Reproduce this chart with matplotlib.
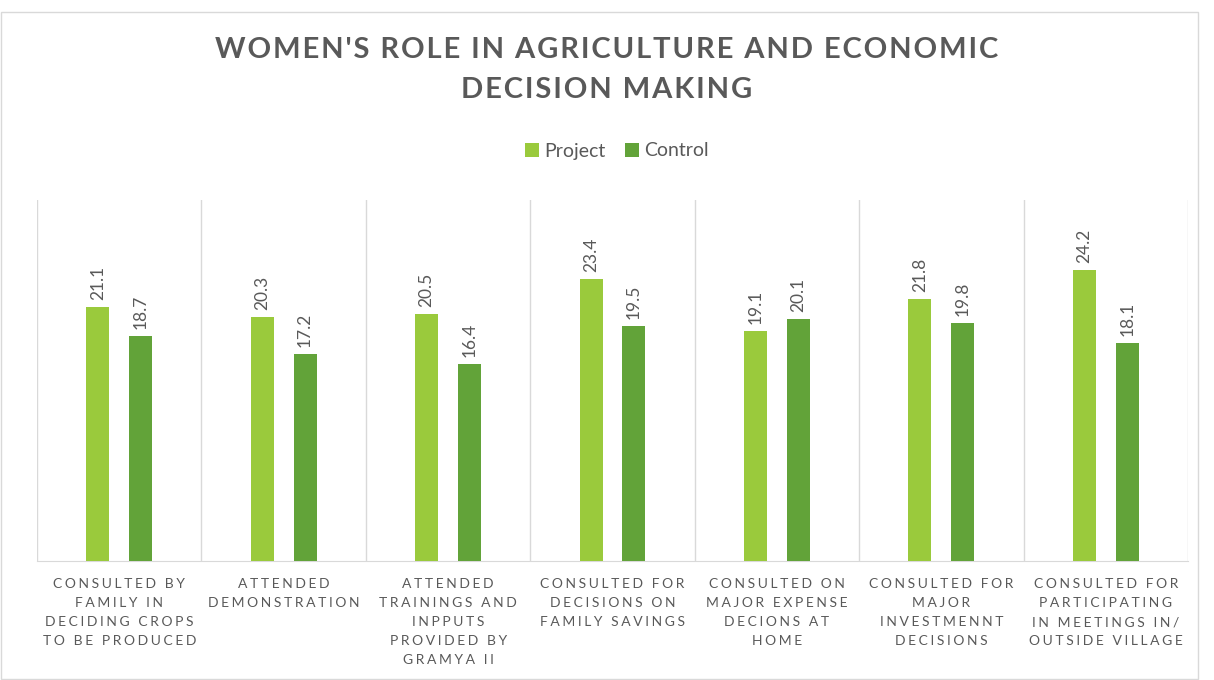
import numpy as np
import matplotlib.pyplot as plt
from matplotlib.patches import Rectangle

# data
categories = ["Consulted by\nfamily in\ndeciding crops\nto be produced",
              "Attended\ndemonstration",
              "Attended\ntrainings and\ninpputs\nprovided by\nGramya II",
              "Consulted for\ndecisions on\nfamily savings",
              "Consulted on\nmajor expense\ndecions at\nhome",
              "Consulted for\nmajor\ninvestmennt\ndecisions",
              "Consulted for\nparticipating\nin meetings in/\noutside village"]
project = [21.1, 20.3, 20.5, 23.4, 19.1, 21.8, 24.2]
control = [18.7, 17.2, 16.4, 19.5, 20.1, 19.8, 18.1]

c_proj = '#9ACA3C'
c_ctrl = '#62A339'
grey = '#595959'
FONT = ['Lato', 'DejaVu Sans']


def spaced(s, sp='\u2009'):
    # fake letter spacing
    return '\n'.join(sp.join(line) for line in s.split('\n'))


fig = plt.figure(figsize=(12.14, 6.8), dpi=100)
ax = fig.add_axes([37/1214, 1-561/680, 1151/1214, 361/680])

x = np.arange(len(categories))
w = 0.14
b1 = ax.bar(x - 0.13, project, w, color=c_proj, label='Project', zorder=3)
b2 = ax.bar(x + 0.13, control, w, color=c_ctrl, label='Control', zorder=3)

for bars in (b1, b2):
    for r in bars:
        ax.annotate(f'{r.get_height():.1f}', (r.get_x() + r.get_width()/2, r.get_height()),
                    xytext=(0, 5), textcoords='offset points', rotation=90,
                    ha='center', va='bottom', fontsize=12.5, color=grey, family=FONT)

ax.set_xlim(-0.5, len(categories) - 0.5)
ax.set_ylim(0, 30)
ax.set_yticks([])
ax.set_xticks(x)
ax.set_xticklabels([spaced(c.upper(), '\u2009\u200a') for c in categories], fontsize=10,
                   color=grey, family=FONT, linespacing=1.72)
ax.tick_params(axis='x', length=0, pad=12)
for xv in np.arange(-0.5, len(categories), 1.0):
    ax.axvline(xv, color='#D9D9D9', lw=1, zorder=1)
for s in ['top', 'right', 'left']:
    ax.spines[s].set_visible(False)
ax.spines['bottom'].set_color('#D9D9D9')

fig.text(0.5, 1-50/680, spaced("WOMEN'S ROLE IN AGRICULTURE AND ECONOMIC", '\u200a'),
         ha='center', va='center', fontsize=21, fontweight='bold', color=grey, family=FONT)
fig.text(0.5, 1-90/680, spaced("DECISION MAKING", '\u200a'),
         ha='center', va='center', fontsize=21, fontweight='bold', color=grey, family=FONT)

fig.legend(handles=[b1, b2], loc='center', bbox_to_anchor=(617/1214, 1-151/680), ncol=2,
           frameon=False, prop={'family': FONT, 'size': 14}, labelcolor=grey,
           handlelength=0.7, handleheight=0.7, handletextpad=0.3, columnspacing=1.0)

fig.patches.append(Rectangle((1/1214, 1/680), 1197/1214, 667/680, transform=fig.transFigure,
                             fill=False, edgecolor='#D9D9D9', lw=1))

fig.savefig('out.png', dpi=100)
